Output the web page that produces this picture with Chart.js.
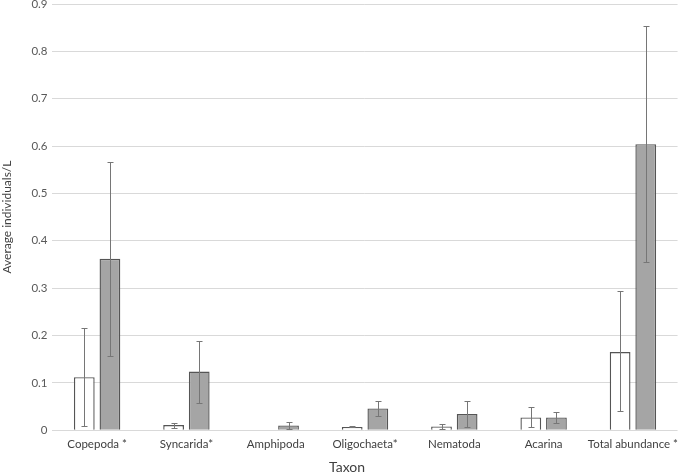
<!DOCTYPE html>
<html>
<head>
<meta charset="utf-8">
<script src="https://cdn.jsdelivr.net/npm/chart.js@4.4.1/dist/chart.umd.min.js"></script>
<style>
  html, body { margin: 0; padding: 0; background: #fff; }
  #wrap { width: 685px; height: 475px; }
</style>
</head>
<body>
<div id="wrap"><canvas id="miCanva"></canvas></div>
<script>
const taxa = ['Copepoda *', 'Syncarida*', 'Amphipoda', 'Oligochaeta*', 'Nematoda', 'Acarina', 'Total abundance *'];

// white bars
const blancos = [0.112, 0.011, 0, 0.007, 0.008, 0.027, 0.165];
const blancosBajo = [0.008, 0.004, null, 0.006, 0.002, 0.006, 0.040];
const blancosAlto = [0.215, 0.015, null, 0.008, 0.014, 0.048, 0.293];

// grey bars
const grises = [0.362, 0.124, 0.010, 0.046, 0.034, 0.027, 0.604];
const grisesBajo = [0.157, 0.058, 0.002, 0.030, 0.006, 0.016, 0.355];
const grisesAlto = [0.567, 0.189, 0.018, 0.062, 0.061, 0.039, 0.854];

const yTicks = [0, 0.1, 0.2, 0.3, 0.4, 0.5, 0.6, 0.7, 0.8, 0.9];

const errores = [
  { bajo: blancosBajo, alto: blancosAlto },
  { bajo: grisesBajo, alto: grisesAlto }
];

const barrasError = {
  id: 'barrasError',
  afterDatasetsDraw(chart) {
    const ctx = chart.ctx;
    const y = chart.scales.y;
    ctx.save();
    ctx.strokeStyle = '#767676';
    ctx.lineWidth = 1;
    chart.data.datasets.forEach((ds, i) => {
      const meta = chart.getDatasetMeta(i);
      meta.data.forEach((bar, j) => {
        const lo = errores[i].bajo[j];
        const hi = errores[i].alto[j];
        if (lo === null || hi === null) return;
        const x = Math.round(bar.x) + 0.5;
        const y1 = Math.round(y.getPixelForValue(lo)) + 0.5;
        const y2 = Math.round(y.getPixelForValue(hi)) + 0.5;
        ctx.beginPath();
        ctx.moveTo(x, y1); ctx.lineTo(x, y2);
        ctx.moveTo(x - 3, y1); ctx.lineTo(x + 3, y1);
        ctx.moveTo(x - 3, y2); ctx.lineTo(x + 3, y2);
        ctx.stroke();
      });
    });
    ctx.restore();
  }
};

Chart.defaults.font.family = 'Lato, "Open Sans", sans-serif';

new Chart(document.getElementById('miCanva'), {
  type: 'bar',
  data: {
    labels: taxa,
    datasets: [{
      label: 'A',
      data: blancos,
      backgroundColor: '#ffffff',
      borderColor: '#555555',
      borderWidth: 1.4,
      categoryPercentage: 0.574,
      barPercentage: 0.81
    }, {
      label: 'B',
      data: grises,
      backgroundColor: '#a5a5a5',
      borderColor: '#555555',
      borderWidth: 1.4,
      categoryPercentage: 0.574,
      barPercentage: 0.81
    }]
  },
  options: {
    responsive: true,
    maintainAspectRatio: false,
    animation: false,
    layout: { padding: { top: 4, right: 0, left: 0, bottom: 1 } },
    plugins: {
      legend: { display: false },
      tooltip: { enabled: false }
    },
    scales: {
      x: {
        grid: { display: false, drawTicks: false },
        border: { display: false },
        ticks: { color: '#404040', font: { size: 11.5 }, padding: 7, maxRotation: 0, autoSkip: false },
        title: {
          display: true,
          text: 'Taxon          ',
          color: '#404040',
          font: { size: 14, lineHeight: 1 },
          padding: { top: 2, bottom: 0 }
        }
      },
      y: {
        min: 0,
        max: 0.9,
        afterBuildTicks(axis) { axis.ticks = yTicks.map(v => ({ value: v })); },
        afterFit(axis) { axis.paddingTop = 0; },
        grid: { color: '#d9d9d9', drawTicks: false, lineWidth: 1 },
        border: { display: false },
        ticks: { color: '#595959', font: { size: 11.5 }, padding: 5, callback: v => String(v) },
        title: { display: true, text: 'Average individuals/L', color: '#404040', font: { size: 12 }, padding: { top: 0, bottom: 12 } }
      }
    }
  },
  plugins: [barrasError]
});
</script>
</body>
</html>
